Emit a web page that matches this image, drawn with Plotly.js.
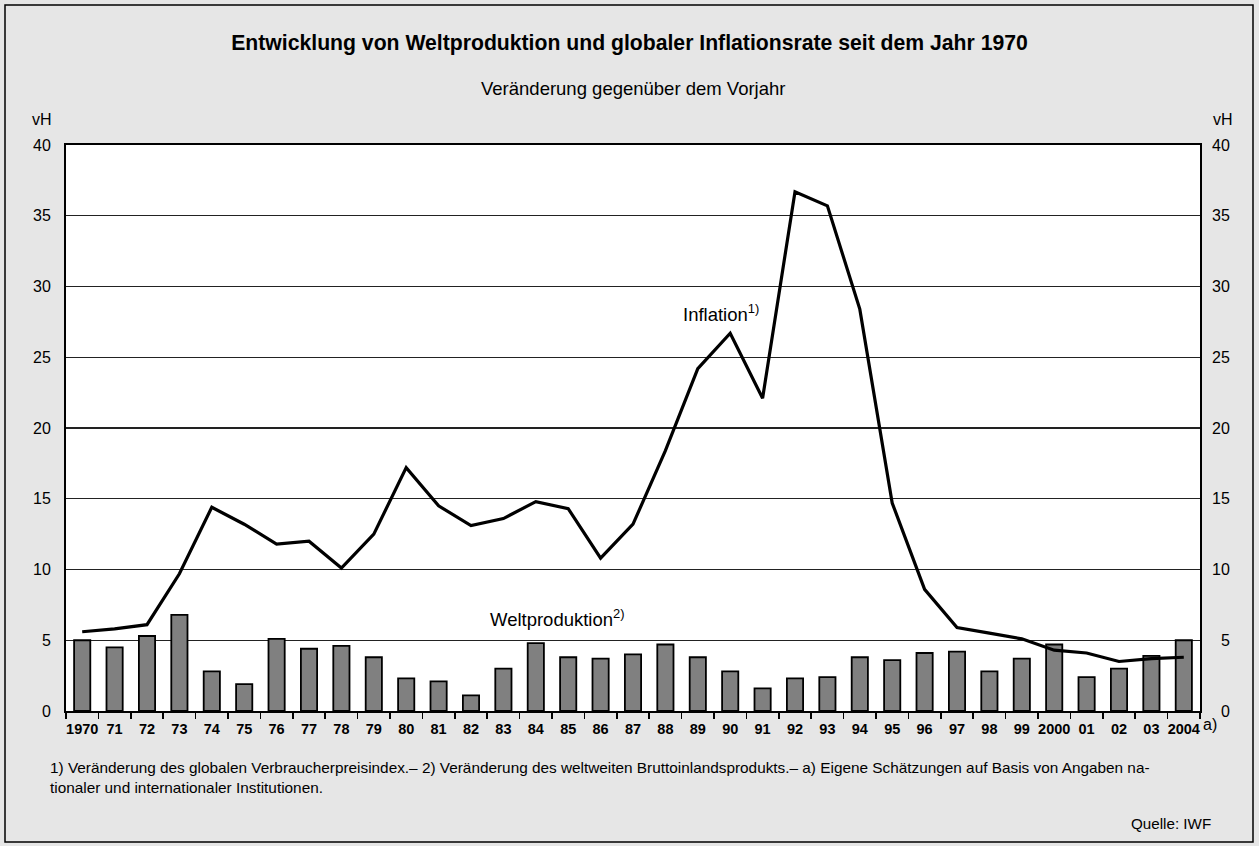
<!DOCTYPE html>
<html>
<head>
<meta charset="utf-8">
<script src="https://cdn.plot.ly/plotly-3.0.1.min.js"></script>
<style>
html,body{margin:0;padding:0;background:#e6e6e6;}
#chart{width:1259px;height:846px;}
</style>
</head>
<body>
<div id="chart"></div>
<script>
const years = ["1970","71","72","73","74","75","76","77","78","79","80","81","82","83","84","85","86","87","88","89","90","91","92","93","94","95","96","97","98","99","2000","01","02","03","2004"];
const weltproduktion = [5.0,4.5,5.3,6.8,2.8,1.9,5.1,4.4,4.6,3.8,2.3,2.1,1.1,3.0,4.8,3.8,3.7,4.0,4.7,3.8,2.8,1.6,2.3,2.4,3.8,3.6,4.1,4.2,2.8,3.7,4.7,2.4,3.0,3.9,5.0];
const inflation = [5.6,5.8,6.1,9.7,14.4,13.2,11.8,12.0,10.1,12.5,17.2,14.5,13.1,13.6,14.8,14.3,10.8,13.2,18.4,24.2,26.7,22.1,36.7,35.7,28.4,14.7,8.6,5.9,5.5,5.1,4.3,4.1,3.5,3.7,3.8];
const yTicks = [0,5,10,15,20,25,30,35,40];
const yTickText = ["0","5","10","15","20","25","30","35","40"];

const FONT = "Liberation Sans, Arial, Helvetica, sans-serif";
const L = 66, R = 1200, T = 145, B = 711;
const px = x => (x - L) / (R - L);
const py = y => (B - y) / (B - T);

const traces = [
  {
    type: "bar", x: years, y: weltproduktion, width: 0.5,
    marker: {color: "#808080", line: {color: "#000", width: 1.8}},
    showlegend: false
  },
  {
    type: "scatter", mode: "lines", x: years, y: inflation,
    line: {color: "#000", width: 3.2},
    showlegend: false
  },
  {
    type: "scatter", mode: "none", x: [years[0]], y: [0], yaxis: "y2",
    showlegend: false, hoverinfo: "skip"
  }
];

const layout = {
  width: 1259, height: 846,
  paper_bgcolor: "#e6e6e6", plot_bgcolor: "#ffffff",
  margin: {l: L, r: 1259 - R, t: T, b: 846 - B},
  font: {family: FONT, color: "#000", size: 16},
  title: {
    text: "<b>Entwicklung von Weltproduktion und globaler Inflationsrate seit dem Jahr 1970</b>",
    font: {family: FONT, size: 21.2, color: "#000"},
    x: 0.5, xref: "container", xanchor: "center",
    y: 1 - 43/846, yref: "container", yanchor: "middle"
  },
  xaxis: {
    type: "category", categoryorder: "array", categoryarray: years,
    tickson: "boundaries", ticks: "outside", ticklen: 6, tickwidth: 1.5, tickcolor: "#000",
    tickangle: 0, ticklabelstandoff: 4,
    showgrid: false, showline: true, linecolor: "#000", linewidth: 2, mirror: true,
    tickfont: {family: FONT, size: 14.5, color: "#000", weight: "bold"},
    fixedrange: true
  },
  yaxis: {
    range: [0, 40], tickvals: yTicks, ticktext: yTickText,
    showgrid: true, gridcolor: "#222", gridwidth: 1.4,
    zeroline: false, showline: true, linecolor: "#000", linewidth: 2, mirror: true,
    ticks: "", ticklabelstandoff: 10,
    tickfont: {family: FONT, size: 16, color: "#000"}, fixedrange: true
  },
  yaxis2: {
    range: [0, 40], tickvals: yTicks,
    ticktext: yTickText.map(t => t.length === 1 ? "\u2007" + t : t),
    overlaying: "y", side: "right", showgrid: false, zeroline: false, showline: false,
    ticks: "", ticklabelstandoff: 11,
    tickfont: {family: FONT, size: 16, color: "#000"}, fixedrange: true
  },
  annotations: [
    {text: "Veränderung gegenüber dem Vorjahr", xref: "paper", yref: "paper",
     x: px(633), y: py(89), showarrow: false, font: {size: 18.5}, xanchor: "center", yanchor: "middle"},
    {text: "vH", xref: "paper", yref: "paper", x: px(42), y: py(120),
     showarrow: false, font: {size: 16}, xanchor: "center", yanchor: "middle"},
    {text: "vH", xref: "paper", yref: "paper", x: px(1223), y: py(120),
     showarrow: false, font: {size: 16}, xanchor: "center", yanchor: "middle"},
    {text: "Inflation<sup>1)</sup>", xref: "paper", yref: "paper", x: px(721), y: py(313),
     showarrow: false, font: {size: 18.5}, xanchor: "center", yanchor: "middle"},
    {text: "Weltproduktion<sup>2)</sup>", xref: "paper", yref: "paper", x: px(557), y: py(618),
     showarrow: false, font: {size: 18.5}, xanchor: "center", yanchor: "middle"},
    {text: "a)", xref: "paper", yref: "paper", x: px(1201), y: py(724),
     showarrow: false, font: {size: 16}, xanchor: "left", yanchor: "middle"},
    {text: "1) Veränderung des globalen Verbraucherpreisindex.– 2) Veränderung des weltweiten Bruttoinlandsprodukts.– a) Eigene Schätzungen auf Basis von Angaben na-<br>tionaler und internationaler Institutionen.",
     xref: "paper", yref: "paper", x: px(48), y: py(757), showarrow: false,
     font: {size: 15.35}, xanchor: "left", yanchor: "top", align: "left"},
    {text: "Quelle: IWF", xref: "paper", yref: "paper", x: px(1213), y: py(823),
     showarrow: false, font: {size: 15.2}, xanchor: "right", yanchor: "middle"}
  ],
  shapes: [
    {type: "rect", xref: "paper", yref: "paper", layer: "above",
     x0: px(5), x1: px(1253), y0: py(842), y1: py(5),
     line: {color: "#000", width: 1.5}, fillcolor: "rgba(0,0,0,0)"}
  ]
};

Plotly.newPlot("chart", traces, layout, {displayModeBar: false, staticPlot: true});
</script>
</body>
</html>
